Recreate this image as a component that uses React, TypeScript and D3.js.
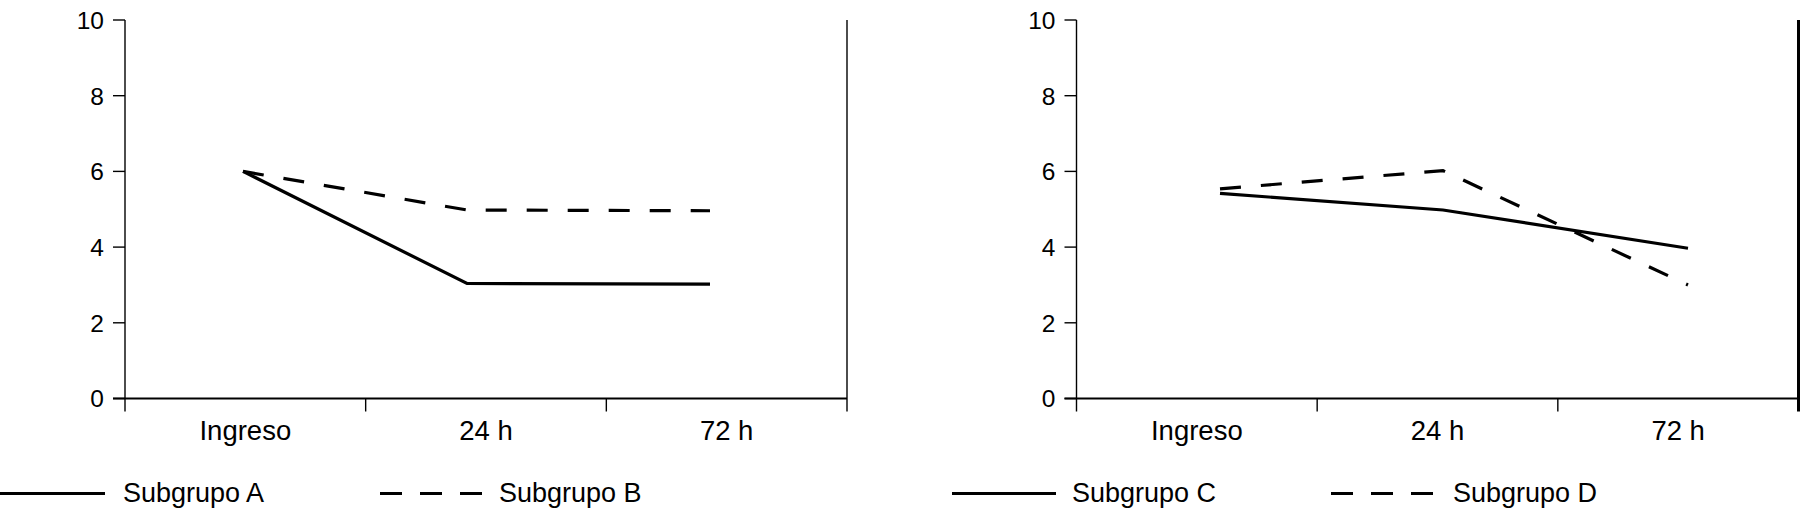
import React from "react";
import * as d3 from "d3";

const categories = ["Ingreso", "24 h", "72 h"];
const yTicks = [0, 2, 4, 6, 8, 10];
const subgrupoA = [6.0, 3.04, 3.02];
const subgrupoB = [6.0, 4.98, 4.96];
const subgrupoC = [5.42, 4.98, 3.97];
const subgrupoD = [5.54, 6.02, 3.0];
const legendLeft = ["Subgrupo A", "Subgrupo B"];
const legendRight = ["Subgrupo C", "Subgrupo D"];

const FONT = "'Liberation Sans', Arial, Helvetica, sans-serif";
const W = 1800;
const H = 515;
const TOP = 20;
const ZERO = 398.5;
const PLOT_W = 722;

type PanelProps = {
  axisX: number;
  pointRange: number[];
  solid: number[];
  dashed: number[];
  labels: string[];
  legend: { solidX: number[]; solidTextX: number; dashX: number[]; dashTextX: number };
  frameWidth: number;
};

function Panel({ axisX, pointRange, solid, dashed, labels, legend, frameWidth }: PanelProps) {
  const y = d3.scaleLinear().domain([0, 10]).range([ZERO, TOP]);
  const band = d3.scaleBand<string>().domain(categories).range([axisX, axisX + PLOT_W]).padding(0);
  const px = d3.scaleLinear().domain([0, 1, 2]).range(pointRange);
  const line = d3
    .line<number>()
    .x((_, i) => px(i))
    .y((d) => y(d));
  const right = axisX + PLOT_W;
  const tickBottom = ZERO + 13;
  const catTicks = categories.map((c) => band(c)! + band.bandwidth());
  const legendY = 493.5;
  const legendBase = 501.5;
  return (
    <g>
      {/* y axis */}
      <line x1={axisX} x2={axisX} y1={TOP} y2={tickBottom} stroke="#000" strokeWidth={1.4} />
      {yTicks.map((t) => (
        <g key={t}>
          <line x1={axisX - 12} x2={axisX} y1={y(t)} y2={y(t)} stroke="#000" strokeWidth={1.4} />
          <text
            x={axisX - 21}
            y={y(t)}
            dy="0.36em"
            textAnchor="end"
            fontFamily={FONT}
            fontSize={24.5}
            fill="#000"
          >
            {t}
          </text>
        </g>
      ))}
      {/* x axis */}
      <line x1={axisX - 12} x2={right} y1={ZERO} y2={ZERO} stroke="#000" strokeWidth={1.8} />
      {catTicks.map((tx, i) => (
        <line
          key={i}
          x1={tx}
          x2={tx}
          y1={i === catTicks.length - 1 ? TOP : ZERO}
          y2={tickBottom}
          stroke="#000"
          strokeWidth={i === catTicks.length - 1 ? frameWidth : 1.4}
        />
      ))}
      {categories.map((c) => (
        <text
          key={c}
          x={band(c)! + band.bandwidth() / 2}
          y={440}
          textAnchor="middle"
          fontFamily={FONT}
          fontSize={27.5}
          fill="#000"
        >
          {c}
        </text>
      ))}
      {/* series */}
      <path d={line(dashed) || ""} fill="none" stroke="#000" strokeWidth={3.2} strokeDasharray="21 20" />
      <path d={line(solid) || ""} fill="none" stroke="#000" strokeWidth={3.2} />
      {/* legend */}
      <line x1={legend.solidX[0]} x2={legend.solidX[1]} y1={legendY} y2={legendY} stroke="#000" strokeWidth={3.2} />
      <text x={legend.solidTextX} y={legendBase} fontFamily={FONT} fontSize={27} fill="#000">
        {labels[0]}
      </text>
      <line
        x1={legend.dashX[0]}
        x2={legend.dashX[1]}
        y1={legendY}
        y2={legendY}
        stroke="#000"
        strokeWidth={3.2}
        strokeDasharray="22 18"
      />
      <text x={legend.dashTextX} y={legendBase} fontFamily={FONT} fontSize={27} fill="#000">
        {labels[1]}
      </text>
    </g>
  );
}

export default function App() {
  return (
    <svg
      width={W}
      height={H}
      viewBox={`0 0 ${W} ${H}`}
      style={{ position: "absolute", left: 0, top: 0, background: "#fff" }}
    >
      <rect x={0} y={0} width={W} height={H} fill="#fff" />
      <Panel
        axisX={125}
        pointRange={[243, 467, 710]}
        solid={subgrupoA}
        dashed={subgrupoB}
        labels={legendLeft}
        legend={{ solidX: [0, 105], solidTextX: 123, dashX: [380, 482], dashTextX: 499 }}
        frameWidth={1.4}
      />
      <Panel
        axisX={1076.5}
        pointRange={[1220, 1443, 1688]}
        solid={subgrupoC}
        dashed={subgrupoD}
        labels={legendRight}
        legend={{ solidX: [952, 1056], solidTextX: 1072, dashX: [1331, 1434], dashTextX: 1453 }}
        frameWidth={3}
      />
    </svg>
  );
}
